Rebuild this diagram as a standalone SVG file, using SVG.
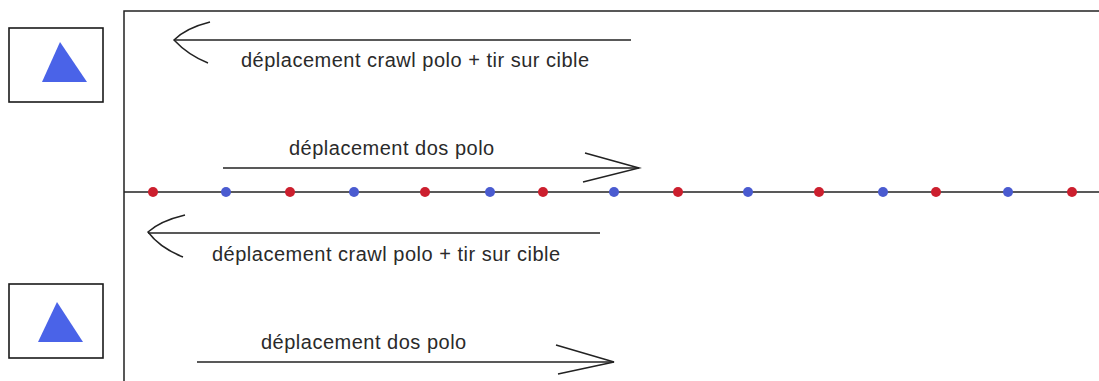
<svg xmlns="http://www.w3.org/2000/svg" width="1099" height="381" viewBox="0 0 1099 381">
<style>
.ln{stroke:#222;stroke-width:1.5;fill:none}
.bx{stroke:#1a1a1a;stroke-width:1.6;fill:#fff}
.tri{fill:#4a63e8}
.lbl{font-family:"Liberation Sans",Arial,sans-serif;font-size:20px;fill:#2a2a2a;letter-spacing:0.5px}
.r{fill:#cc1f2e}
.b{fill:#4a5bd0}
</style>
<rect width="1099" height="381" fill="#fff"/>
<g id="frame">
<path class="ln" d="M124,381 V11 H1099"/>
<path class="ln" d="M124,192 H1099"/>
</g>
<g id="player-top">
<rect class="bx" x="9" y="28" width="94" height="74"/>
<polygon class="tri" points="60,42 42,82 87,82"/>
</g>
<g id="player-bottom">
<rect class="bx" x="9" y="284" width="94" height="74"/>
<polygon class="tri" points="57,302 38,342 83,342"/>
</g>
<g id="dots">
<circle class="r" cx="153" cy="192" r="5"/>
<circle class="b" cx="226" cy="192" r="5"/>
<circle class="r" cx="290" cy="192" r="5"/>
<circle class="b" cx="354" cy="192" r="5"/>
<circle class="r" cx="425" cy="192" r="5"/>
<circle class="b" cx="490" cy="192" r="5"/>
<circle class="r" cx="543" cy="192" r="5"/>
<circle class="b" cx="614" cy="192" r="5"/>
<circle class="r" cx="678" cy="192" r="5"/>
<circle class="b" cx="748" cy="192" r="5"/>
<circle class="r" cx="819" cy="192" r="5"/>
<circle class="b" cx="883" cy="192" r="5"/>
<circle class="r" cx="936" cy="192" r="5"/>
<circle class="b" cx="1008" cy="192" r="5"/>
<circle class="r" cx="1072" cy="192" r="5"/>
</g>
<g id="connectors">
<path class="ln" d="M631,40 H174"/>
<path class="ln" d="M210,22 Q186,28 174,40 Q188,55 208,63"/>
<path class="ln" d="M223,168 H639"/>
<path class="ln" d="M585,153 L639,168 L583,182"/>
<path class="ln" d="M600,233 H148"/>
<path class="ln" d="M185,215 Q160,221 148,232 Q160,248 183,257"/>
<path class="ln" d="M197,362 H614"/>
<path class="ln" d="M556,345 L614,362 L558,374"/>
</g>
<g id="labels">
<text class="lbl" x="241" y="67">déplacement crawl polo + tir sur cible</text>
<text class="lbl" x="289" y="155">déplacement dos polo</text>
<text class="lbl" x="212" y="261">déplacement crawl polo + tir sur cible</text>
<text class="lbl" x="261" y="349">déplacement dos polo</text>
</g>
</svg>
